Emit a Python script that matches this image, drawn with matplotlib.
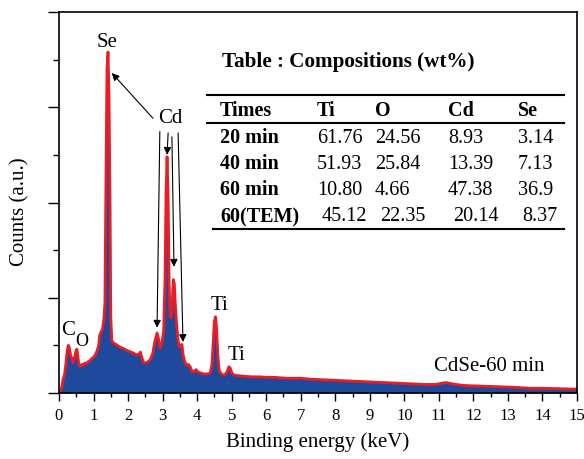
import matplotlib
matplotlib.use("Agg")
import matplotlib.pyplot as plt
from matplotlib.ticker import MultipleLocator

plt.rcParams['font.family'] = ['Liberation Serif', 'DejaVu Serif']

# EDS spectrum (keV, arbitrary counts)
energy = [0.00, 0.04, 0.08, 0.12, 0.16, 0.20, 0.24, 0.27, 0.30, 0.34, 0.38, 0.41,
          0.45, 0.49, 0.52, 0.55, 0.58, 0.62, 0.66, 0.70, 0.75, 0.80, 0.85, 0.90,
          0.95, 1.00, 1.05, 1.10, 1.15, 1.18, 1.22, 1.26, 1.30, 1.33, 1.36, 1.39,
          1.42, 1.45, 1.48, 1.50, 1.53, 1.58, 1.65, 1.75, 1.85, 1.95, 2.05, 2.15,
          2.25, 2.32, 2.36, 2.40, 2.45, 2.52, 2.60, 2.66, 2.72, 2.78, 2.84, 2.88,
          2.93, 2.98, 3.03, 3.07, 3.10, 3.13, 3.16, 3.19, 3.22, 3.25, 3.28, 3.31,
          3.34, 3.37, 3.41, 3.45, 3.49, 3.53, 3.56, 3.60, 3.64, 3.70, 3.75, 3.80,
          3.86, 3.92, 3.97, 4.03, 4.10, 4.20, 4.30, 4.38, 4.43, 4.47, 4.50, 4.53,
          4.56, 4.60, 4.64, 4.70, 4.78, 4.85, 4.92, 4.96, 5.02, 5.10, 5.25, 5.40,
          5.60, 5.80, 6.00, 6.20, 6.40, 6.60, 6.80, 7.00, 7.30, 7.60, 7.90, 8.20,
          8.50, 8.80, 9.10, 9.40, 9.70, 10.0, 10.3, 10.6, 10.9, 11.05, 11.2, 11.4,
          11.7, 12.0, 12.4, 12.8, 13.2, 13.6, 14.0, 14.5, 15.0]
counts = [0.00, 0.05, 0.12, 0.30, 0.38, 0.62, 0.90, 1.00, 0.95, 0.78, 0.72, 0.64,
          0.75, 0.88, 0.92, 0.75, 0.58, 0.56, 0.60, 0.58, 0.63, 0.62, 0.66, 0.68,
          0.72, 0.75, 0.80, 0.88, 1.00, 1.22, 1.28, 1.34, 1.55, 1.90, 4.50, 6.80,
          7.16, 6.20, 3.90, 1.60, 1.10, 1.05, 1.02, 0.97, 0.94, 0.90, 0.87, 0.84,
          0.80, 0.82, 0.86, 0.74, 0.64, 0.63, 0.67, 0.72, 0.85, 1.10, 1.26, 1.15,
          0.94, 1.05, 1.30, 2.40, 4.20, 4.96, 4.10, 2.30, 1.60, 1.58, 1.90, 2.38,
          2.30, 1.85, 1.40, 1.10, 0.97, 0.98, 1.02, 0.78, 0.66, 0.58, 0.60, 0.55,
          0.44, 0.46, 0.49, 0.44, 0.42, 0.40, 0.40, 0.42, 0.60, 1.10, 1.50, 1.60,
          1.40, 0.80, 0.47, 0.40, 0.37, 0.42, 0.55, 0.52, 0.40, 0.37, 0.36, 0.35,
          0.34, 0.34, 0.33, 0.33, 0.32, 0.31, 0.31, 0.31, 0.29, 0.28, 0.27, 0.26,
          0.25, 0.24, 0.23, 0.22, 0.21, 0.20, 0.19, 0.18, 0.18, 0.20, 0.22, 0.19,
          0.16, 0.15, 0.14, 0.13, 0.12, 0.10, 0.10, 0.09, 0.08]

# composition table
tab_cols = ['Times', 'Ti', 'O', 'Cd', 'Se']
tab_rows = ['20 min', '40 min', '60 min', '60(TEM)']
tab_vals = [['61.76', '24.56', '8.93', '3.14'],
            ['51.93', '25.84', '13.39', '7.13'],
            ['10.80', '4.66', '47.38', '36.9'],
            ['45.12', '22.35', '20.14', '8.37']]

fig = plt.figure(figsize=(5.84, 4.59), dpi=100)
ax = fig.add_axes([0.101, 0.1438, 0.887, 0.830])

ax.fill_between(energy, counts, 0, color='#1f4a9c', lw=0)
ax.plot(energy, counts, color='#ec1c24', lw=2.0)

ax.set_xlim(0, 15)
ax.set_ylim(0, 8)
ax.xaxis.set_major_locator(MultipleLocator(1))
ax.xaxis.set_minor_locator(MultipleLocator(0.5))
ax.yaxis.set_major_locator(MultipleLocator(2))
ax.yaxis.set_minor_locator(MultipleLocator(1))
ax.tick_params(axis='x', which='major', length=6, width=1, labelsize=12, pad=5)
ax.tick_params(axis='x', which='minor', length=3, width=1)
ax.tick_params(axis='y', which='major', length=8, width=1, labelleft=False)
ax.tick_params(axis='y', which='minor', length=4, width=1)
for s in ax.spines.values():
    s.set_linewidth(1.2)

ax.set_xlabel('Binding energy (keV)', fontsize=15, labelpad=6)
ax.set_ylabel('Counts (a.u.)', fontsize=15)
ax.yaxis.set_label_coords(-0.056, 0.475)

# peak labels
ax.text(1.39, 7.37, 'Se', fontsize=15, ha='center', va='center')
ax.text(3.21, 5.77, 'Cd', fontsize=15, ha='center', va='center')
ax.text(0.26, 1.32, 'C', fontsize=15, ha='center', va='center')
ax.text(0.67, 1.09, 'O', fontsize=13, ha='center', va='center')
ax.text(4.66, 1.83, 'Ti', fontsize=15, ha='center', va='center')
ax.text(5.15, 0.78, 'Ti', fontsize=15, ha='center', va='center')
ax.text(12.45, 0.55, 'CdSe-60 min', fontsize=15, ha='center', va='center')

arr = dict(arrowstyle='-|>', color='black', lw=0.8, mutation_scale=11,
           shrinkA=0, shrinkB=0)
ax.annotate('', xy=(1.53, 6.72), xytext=(2.72, 5.77), arrowprops=arr)
ax.annotate('', xy=(2.84, 1.37), xytext=(2.92, 5.49), arrowprops=arr)
ax.annotate('', xy=(3.13, 5.00), xytext=(3.16, 5.46), arrowprops=arr)
ax.annotate('', xy=(3.33, 2.65), xytext=(3.27, 5.38), arrowprops=arr)
ax.annotate('', xy=(3.59, 1.07), xytext=(3.45, 5.46), arrowprops=arr)

# table drawn in axes fraction
T = ax.transAxes
ax.text(0.315, 0.869, 'Table : Compositions (wt%)', transform=T, fontsize=15.2,
        fontweight='bold', ha='left', va='center')
ax.plot([0.286, 0.975], [0.782, 0.782], transform=T, color='black', lw=1.5)
ax.plot([0.286, 0.975], [0.709, 0.709], transform=T, color='black', lw=1.5)
ax.plot([0.297, 0.975], [0.430, 0.430], transform=T, color='black', lw=1.5)

col_x = [0.311, 0.498, 0.610, 0.751, 0.886]
row_y = [0.669, 0.600, 0.532, 0.462]
for name, cx in zip(tab_cols, col_x):
    ax.text(cx, 0.740, name, transform=T, fontsize=14.5, fontweight='bold',
            ha='left', va='center')
for i, (r, vals) in enumerate(zip(tab_rows, tab_vals)):
    ax.text(col_x[0], row_y[i], r, transform=T, fontsize=14.5, fontweight='bold',
            ha='left', va='center')
    shift = 0.009 if i == 3 else 0.0
    for j, v in enumerate(vals):
        ax.text(col_x[j + 1] + shift, row_y[i], v, transform=T, fontsize=14.5,
                ha='left', va='center')

fig.savefig('out.png', dpi=100)
